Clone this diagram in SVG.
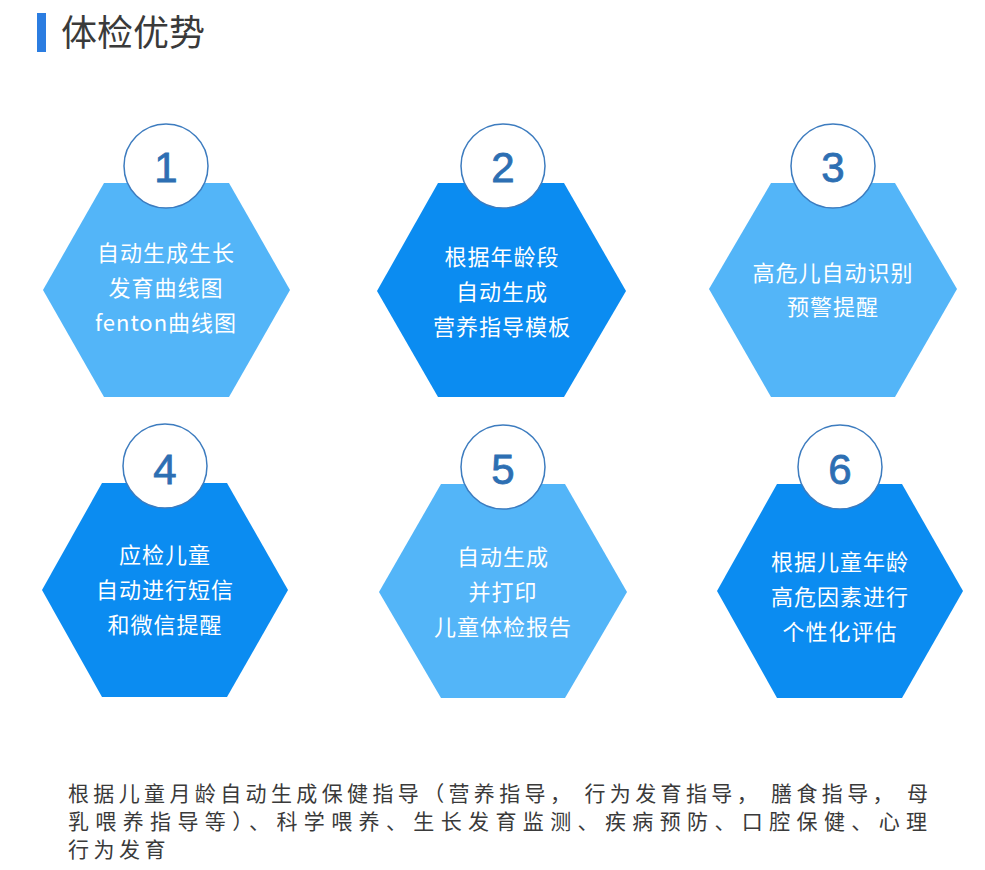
<svg xmlns="http://www.w3.org/2000/svg" width="985" height="870" viewBox="0 0 985 870">
<style>
.hexL{fill:#53b5f8;}
.hexD{fill:#0b8cf1;}
.badge{fill:#ffffff;stroke:#3d7cbf;stroke-width:1.5;}
.num{font-family:"Liberation Sans","Noto Sans",sans-serif;font-size:42px;fill:#2d6fb3;stroke:#2d6fb3;stroke-width:0.8;text-anchor:middle;}
.lbl{font-family:"Noto Sans CJK SC","Noto Sans",sans-serif;font-size:22px;fill:#ffffff;text-anchor:middle;letter-spacing:1px;}
.title{font-family:"Noto Sans CJK SC",sans-serif;font-size:36px;fill:#3a3a3a;}
.body{font-family:"Noto Sans CJK SC",sans-serif;font-size:21px;fill:#3a3a3a;}
</style>
<rect width="985" height="870" fill="#ffffff"/>
<g id="title">
<rect x="37" y="13" width="9" height="39" fill="#2b7de1"/>
<text class="title" x="61" y="46">体检优势</text>
</g>
<g id="node1">
<polygon class="hexL" points="43,290 104,183 229,183 290,290 229,397 104,397"/>
<circle class="badge" cx="166" cy="166" r="42"/>
<text class="num" x="166" y="182">1</text>
<text class="lbl" x="166" y="261">自动生成生长</text>
<text class="lbl" x="166" y="296">发育曲线图</text>
<text class="lbl" x="166" y="331">fenton曲线图</text>
</g>
<g id="node2">
<polygon class="hexD" points="377,291 438,183 564,183 626,291 564,397 438,397"/>
<circle class="badge" cx="503" cy="166" r="42"/>
<text class="num" x="503" y="182">2</text>
<text class="lbl" x="502" y="265">根据年龄段</text>
<text class="lbl" x="502" y="300">自动生成</text>
<text class="lbl" x="502" y="335">营养指导模板</text>
</g>
<g id="node3">
<polygon class="hexL" points="709,289 771,183 895,183 957,289 895,397 771,397"/>
<circle class="badge" cx="833" cy="166" r="42"/>
<text class="num" x="833" y="182">3</text>
<text class="lbl" x="833" y="281">高危儿自动识别</text>
<text class="lbl" x="833" y="315">预警提醒</text>
</g>
<g id="node4">
<polygon class="hexD" points="42,590 102,483 227,483 288,590 227,697 102,697"/>
<circle class="badge" cx="165" cy="466" r="42"/>
<text class="num" x="165" y="484">4</text>
<text class="lbl" x="165" y="563">应检儿童</text>
<text class="lbl" x="165" y="598">自动进行短信</text>
<text class="lbl" x="165" y="633">和微信提醒</text>
</g>
<g id="node5">
<polygon class="hexL" points="379,592 441,484 565,484 627,592 565,698 441,698"/>
<circle class="badge" cx="503" cy="467" r="42"/>
<text class="num" x="503" y="484">5</text>
<text class="lbl" x="503" y="565">自动生成</text>
<text class="lbl" x="503" y="600">并打印</text>
<text class="lbl" x="503" y="635">儿童体检报告</text>
</g>
<g id="node6">
<polygon class="hexD" points="717,591 777,484 902,484 963,591 902,698 777,698"/>
<circle class="badge" cx="840" cy="467" r="42"/>
<text class="num" x="840" y="484">6</text>
<text class="lbl" x="840" y="570">根据儿童年龄</text>
<text class="lbl" x="840" y="605">高危因素进行</text>
<text class="lbl" x="840" y="640">个性化评估</text>
</g>
<g id="connectors"></g>
<g id="description">
<text class="body" x="68" y="801" textLength="860" lengthAdjust="spacing">根据儿童月龄自动生成保健指导（营养指导， 行为发育指导， 膳食指导， 母</text>
<text class="body" x="68" y="829" textLength="859" lengthAdjust="spacing">乳喂养指导等）、科学喂养、生长发育监测、疾病预防、口腔保健、心理</text>
<text class="body" x="68" y="857" letter-spacing="4.5">行为发育</text>
</g>
</svg>
